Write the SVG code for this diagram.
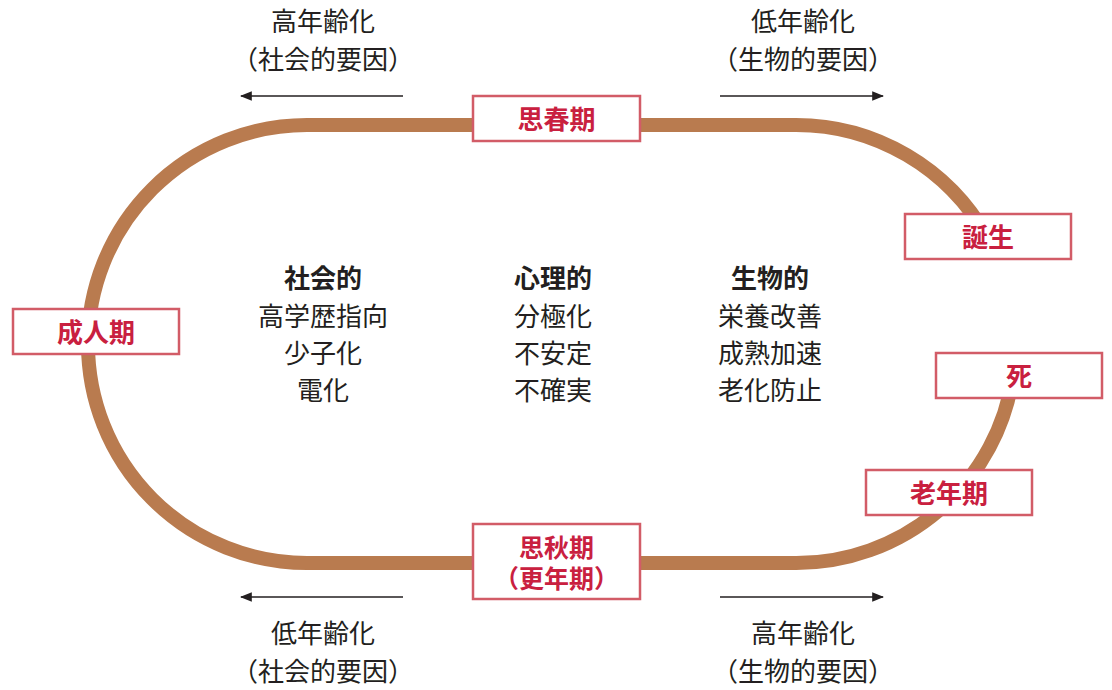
<svg xmlns="http://www.w3.org/2000/svg" width="1112" height="690" viewBox="0 0 1112 690">
<defs>
<style>
text{font-family:"Noto Sans CJK JP","Noto Sans CJK SC",sans-serif;text-anchor:middle}
.t{font-size:26px;fill:#231f20}
.h{font-size:26px;fill:#231f20;font-weight:bold}
.b{font-size:26px;fill:#c9203f;font-weight:bold}
.b2{font-size:25px;fill:#c9203f;font-weight:bold}
.box{fill:#fff;stroke:#d25c67;stroke-width:2.5}
.arr{stroke:#231f20;stroke-width:1.5;fill:none}
.track{fill:none;stroke:#b97b4f;stroke-width:14}
</style>
<marker id="ah" viewBox="0 0 10 10" refX="9" refY="5" markerWidth="12" markerHeight="12" markerUnits="userSpaceOnUse" orient="auto">
<path d="M0,1 L10,5 L0,9 Z" fill="#231f20"/>
</marker>
</defs>
<g id="connectors">
<path class="track" d="M987,237 A219,219 0 0 0 796,125 L307,125 A219,219 0 0 0 307,563 L796,563 A219,219 0 0 0 1013,376"/>
<line class="arr" x1="403" y1="96" x2="241" y2="96" marker-end="url(#ah)"/>
<line class="arr" x1="720" y1="96" x2="883" y2="96" marker-end="url(#ah)"/>
<line class="arr" x1="403" y1="597" x2="241" y2="597" marker-end="url(#ah)"/>
<line class="arr" x1="720" y1="597" x2="883" y2="597" marker-end="url(#ah)"/>
</g>
<g id="label-top-left">
<text class="t" x="323" y="31">高年齢化</text>
<text class="t" x="323" y="69">（社会的要因）</text>
</g>
<g id="label-top-right">
<text class="t" x="803" y="31">低年齢化</text>
<text class="t" x="803" y="69">（生物的要因）</text>
</g>
<g id="label-bottom-left">
<text class="t" x="323" y="643">低年齢化</text>
<text class="t" x="323" y="681">（社会的要因）</text>
</g>
<g id="label-bottom-right">
<text class="t" x="803" y="643">高年齢化</text>
<text class="t" x="803" y="681">（生物的要因）</text>
</g>
<g id="node-puberty">
<rect class="box" x="473" y="96" width="167" height="45"/>
<text class="b" x="556.5" y="129">思春期</text>
</g>
<g id="node-climacteric">
<rect class="box" x="473" y="524" width="167" height="75"/>
<text class="b2" x="556.5" y="557">思秋期</text>
<text class="b2" x="556.5" y="588">（更年期）</text>
</g>
<g id="node-adult">
<rect class="box" x="13" y="309" width="166" height="45"/>
<text class="b" x="96" y="342">成人期</text>
</g>
<g id="node-birth">
<rect class="box" x="905" y="214" width="166" height="45"/>
<text class="b" x="988" y="247">誕生</text>
</g>
<g id="node-death">
<rect class="box" x="936" y="353" width="166" height="45"/>
<text class="b" x="1019" y="386">死</text>
</g>
<g id="node-elderly">
<rect class="box" x="866" y="470" width="166" height="45"/>
<text class="b" x="949" y="503">老年期</text>
</g>
<g id="col-social">
<text class="h" x="323" y="288">社会的</text>
<text class="t" x="323" y="326">高学歴指向</text>
<text class="t" x="323" y="363">少子化</text>
<text class="t" x="323" y="400">電化</text>
</g>
<g id="col-psych">
<text class="h" x="553" y="288">心理的</text>
<text class="t" x="553" y="326">分極化</text>
<text class="t" x="553" y="363">不安定</text>
<text class="t" x="553" y="400">不確実</text>
</g>
<g id="col-bio">
<text class="h" x="770" y="288">生物的</text>
<text class="t" x="770" y="326">栄養改善</text>
<text class="t" x="770" y="363">成熟加速</text>
<text class="t" x="770" y="400">老化防止</text>
</g>
</svg>
